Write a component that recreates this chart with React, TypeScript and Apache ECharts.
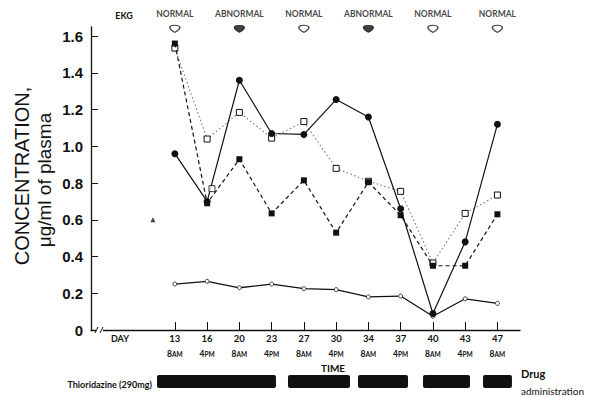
import React, { useEffect, useRef } from "react";
import * as echarts from "echarts";

// ---- data ----
const dayLabels = ["13", "16", "20", "23", "27", "30", "34", "37", "40", "43", "47"];
const timeLabels = ["8AM", "4PM", "8AM", "4PM", "8AM", "4PM", "8AM", "4PM", "8AM", "4PM", "8AM"];
// filled circles, solid line
const seriesSolidCircle = [0.96, 0.7, 1.36, 1.07, 1.065, 1.255, 1.16, 0.66, 0.09, 0.48, 1.12];
// filled squares, dashed line
const seriesDashedSquare = [1.56, 0.69, 0.93, 0.635, 0.815, 0.53, 0.805, 0.625, 0.35, 0.35, 0.63];
// open squares, dotted line
const seriesDottedOpenSquare = [1.535, 1.04, 1.185, 1.045, 1.135, 0.88, 0.81, 0.755, 0.365, 0.635, 0.735];
// open circles, low solid line
const seriesLowOpenCircle = [0.25, 0.265, 0.23, 0.25, 0.225, 0.22, 0.18, 0.185, 0.075, 0.17, 0.145];
// isolated marks
const extraOpenSquare = [[1.15, 0.77]];
const strayTriangle = [[-0.68, 0.6]];
// EKG readings (at the 8 AM samples)
const ekgIndex = [0, 2, 4, 6, 8, 10];
const ekgStatus = ["NORMAL", "ABNORMAL", "NORMAL", "ABNORMAL", "NORMAL", "NORMAL"];
// drug administration periods (in axis sample units)
const drugStart = [-0.554, 3.507, 5.677, 7.693, 9.553];
const drugEnd = [3.135, 5.43, 7.228, 9.15, 10.45];
// y ticks
const yTickValues = [0, 0.2, 0.4, 0.6, 0.8, 1.0, 1.2, 1.4, 1.6];
const yTickLabels = ["0", "0.2", "0.4", "0.6", "0.8", "1.0", "1.2", "1.4", "1.6"];

const INK = "#111";
const SMALL_FONT = "Lato, 'DejaVu Sans', sans-serif";
const BIG_FONT = "'Liberation Sans', Arial, sans-serif";

export default function App() {
  const ref = useRef<HTMLDivElement>(null);

  useEffect(() => {
    if (!ref.current) return;
    const chart = echarts.init(ref.current, undefined, { renderer: "svg" });
    const idx = dayLabels.map((_, i) => i);
    const pairs = (arr: number[]) => arr.map((v, i) => [i, v]);

    const option: any = {
      animation: false,
      backgroundColor: "#fff",
      grid: { left: 91, right: 69, top: 27, bottom: 67 },
      xAxis: {
        type: "value",
        min: -2.6,
        max: 10.7,
        axisLine: { show: true, onZero: false, lineStyle: { color: INK, width: 1.3 } },
        axisTick: { show: true, inside: true, length: 8, customValues: idx, lineStyle: { color: INK, width: 1 } },
        splitLine: { show: false },
        axisLabel: {
          customValues: idx,
          margin: 2,
          color: INK,
          formatter: (v: number) => {
            const i = Math.round(v);
            const t = timeLabels[i] || "";
            return `{d|${dayLabels[i]}}\n{n|${t.slice(0, 1)}}{s|${t.slice(1)}}`;
          },
          rich: {
            d: { fontSize: 9.5, fontFamily: SMALL_FONT, fontWeight: "bold", lineHeight: 13, color: INK },
            n: { fontSize: 8.5, fontFamily: SMALL_FONT, fontWeight: "bold", lineHeight: 18, color: INK },
            s: { fontSize: 6.5, fontFamily: SMALL_FONT, fontWeight: "bold", lineHeight: 18, color: INK },
          },
        },
      },
      yAxis: {
        type: "value",
        min: 0,
        max: 1.65,
        axisLine: { show: true, onZero: false, lineStyle: { color: INK, width: 1.3 } },
        axisTick: { show: true, inside: true, length: 7, customValues: yTickValues, lineStyle: { color: INK } },
        splitLine: { show: false },
        axisLabel: {
          customValues: yTickValues,
          margin: 8,
          fontSize: 15,
          fontWeight: "bold",
          fontFamily: BIG_FONT,
          color: INK,
          formatter: (v: number) => {
            const k = yTickValues.findIndex((t) => Math.abs(t - v) < 1e-6);
            return k >= 0 ? yTickLabels[k] : "";
          },
        },
      },
      series: [
        {
          type: "custom",
          name: "drug",
          clip: false,
          data: drugStart.map((s, i) => [s, drugEnd[i]]),
          renderItem: (params: any, api: any) => {
            const a = api.coord([api.value(0), 0]);
            const b = api.coord([api.value(1), 0]);
            return {
              type: "rect",
              shape: { x: a[0], y: a[1] + 45, width: b[0] - a[0], height: 13, r: 2 },
              style: { fill: INK },
            };
          },
        },
        {
          type: "line",
          data: pairs(seriesDottedOpenSquare),
          symbol: "rect",
          symbolSize: 6,
          lineStyle: { color: "#777", width: 1.1, type: [1.5, 2.5] },
          itemStyle: { color: "#fff", borderColor: INK, borderWidth: 1 },
          z: 3,
        },
        {
          type: "line",
          data: pairs(seriesDashedSquare),
          symbol: "rect",
          symbolSize: 6,
          lineStyle: { color: INK, width: 1.2, type: [4, 3] },
          itemStyle: { color: INK },
          z: 4,
        },
        {
          type: "line",
          data: pairs(seriesSolidCircle),
          symbol: "circle",
          symbolSize: 7,
          lineStyle: { color: INK, width: 1.2 },
          itemStyle: { color: INK },
          z: 5,
        },
        {
          type: "line",
          data: pairs(seriesLowOpenCircle),
          symbol: "circle",
          symbolSize: 4,
          lineStyle: { color: INK, width: 1.3 },
          itemStyle: { color: "#fff", borderColor: INK, borderWidth: 0.8 },
          z: 4,
        },
        {
          type: "scatter",
          data: extraOpenSquare,
          symbol: "rect",
          symbolSize: 6,
          itemStyle: { color: "#fff", borderColor: INK, borderWidth: 1 },
          z: 6,
        },
        {
          type: "scatter",
          data: strayTriangle,
          symbol: "triangle",
          symbolSize: 5,
          itemStyle: { color: INK },
          z: 6,
        },
        {
          type: "scatter",
          clip: false,
          data: ekgIndex.map((i, k) => ({
            value: [i, 1.64],
            itemStyle:
              ekgStatus[k] === "ABNORMAL"
                ? { color: INK, borderColor: INK, borderWidth: 1 }
                : { color: "#fff", borderColor: INK, borderWidth: 1.2 },
          })),
          symbol: "path://M0,2.5 C0,0 10,0 10,2.5 C10,4.5 7,6 5,7 C3,6 0,4.5 0,2.5 Z",
          symbolSize: [10, 7],
          label: {
            show: true,
            position: "top",
            distance: 6,
            fontSize: 8.5,
            fontWeight: "bold",
            fontFamily: SMALL_FONT,
            color: INK,
            formatter: (p: any) => ekgStatus[p.dataIndex],
          },
          z: 6,
        },
      ],
      graphic: [
        {
          type: "text",
          x: 22,
          y: 176,
          rotation: Math.PI / 2,
          style: {
            text: "CONCENTRATION,",
            fontSize: 20,
            fontFamily: BIG_FONT,
            fill: INK,
            align: "center",
            verticalAlign: "middle",
          },
        },
        {
          type: "text",
          x: 44,
          y: 180,
          rotation: Math.PI / 2,
          style: {
            text: "μg/ml of plasma",
            fontSize: 19,
            fontFamily: BIG_FONT,
            fill: INK,
            align: "center",
            verticalAlign: "middle",
          },
        },
        {
          type: "text",
          x: 124,
          y: 15,
          style: { text: "EKG", fontSize: 9, fontWeight: "bold", fontFamily: SMALL_FONT, fill: INK, align: "center", verticalAlign: "middle" },
        },
        {
          type: "text",
          x: 120,
          y: 338,
          style: { text: "DAY", fontSize: 9, fontWeight: "bold", fontFamily: SMALL_FONT, fill: INK, align: "center", verticalAlign: "middle" },
        },
        {
          type: "text",
          x: 333,
          y: 368,
          style: { text: "TIME", fontSize: 10, fontWeight: "bold", fontFamily: SMALL_FONT, fill: INK, align: "center", verticalAlign: "middle" },
        },
        {
          type: "text",
          x: 152,
          y: 384,
          style: { text: "Thioridazine (290mg)", fontSize: 9, fontWeight: "bold", fontFamily: SMALL_FONT, fill: INK, align: "right", verticalAlign: "middle" },
        },
        {
          type: "text",
          x: 521,
          y: 373,
          style: { text: "Drug", fontSize: 11, fontWeight: "bold", fontFamily: SMALL_FONT, fill: INK, align: "left", verticalAlign: "middle" },
        },
        {
          type: "text",
          x: 521,
          y: 391,
          style: { text: "administration", fontSize: 10, fontFamily: SMALL_FONT, fill: INK, align: "left", verticalAlign: "middle" },
        },
        { type: "rect", shape: { x: 96, y: 327, width: 7, height: 6 }, style: { fill: "#fff" }, z: 10 },
        { type: "line", shape: { x1: 95, y1: 333, x2: 98, y2: 327 }, style: { stroke: INK, lineWidth: 1 }, z: 11 },
        { type: "line", shape: { x1: 100, y1: 333, x2: 103, y2: 327 }, style: { stroke: INK, lineWidth: 1 }, z: 11 },
      ],
    };
    chart.setOption(option);
    return () => chart.dispose();
  }, []);

  return (
    <div
      ref={ref}
      style={{ position: "absolute", left: 0, top: 0, width: 589, height: 397, background: "#fff" }}
    />
  );
}
